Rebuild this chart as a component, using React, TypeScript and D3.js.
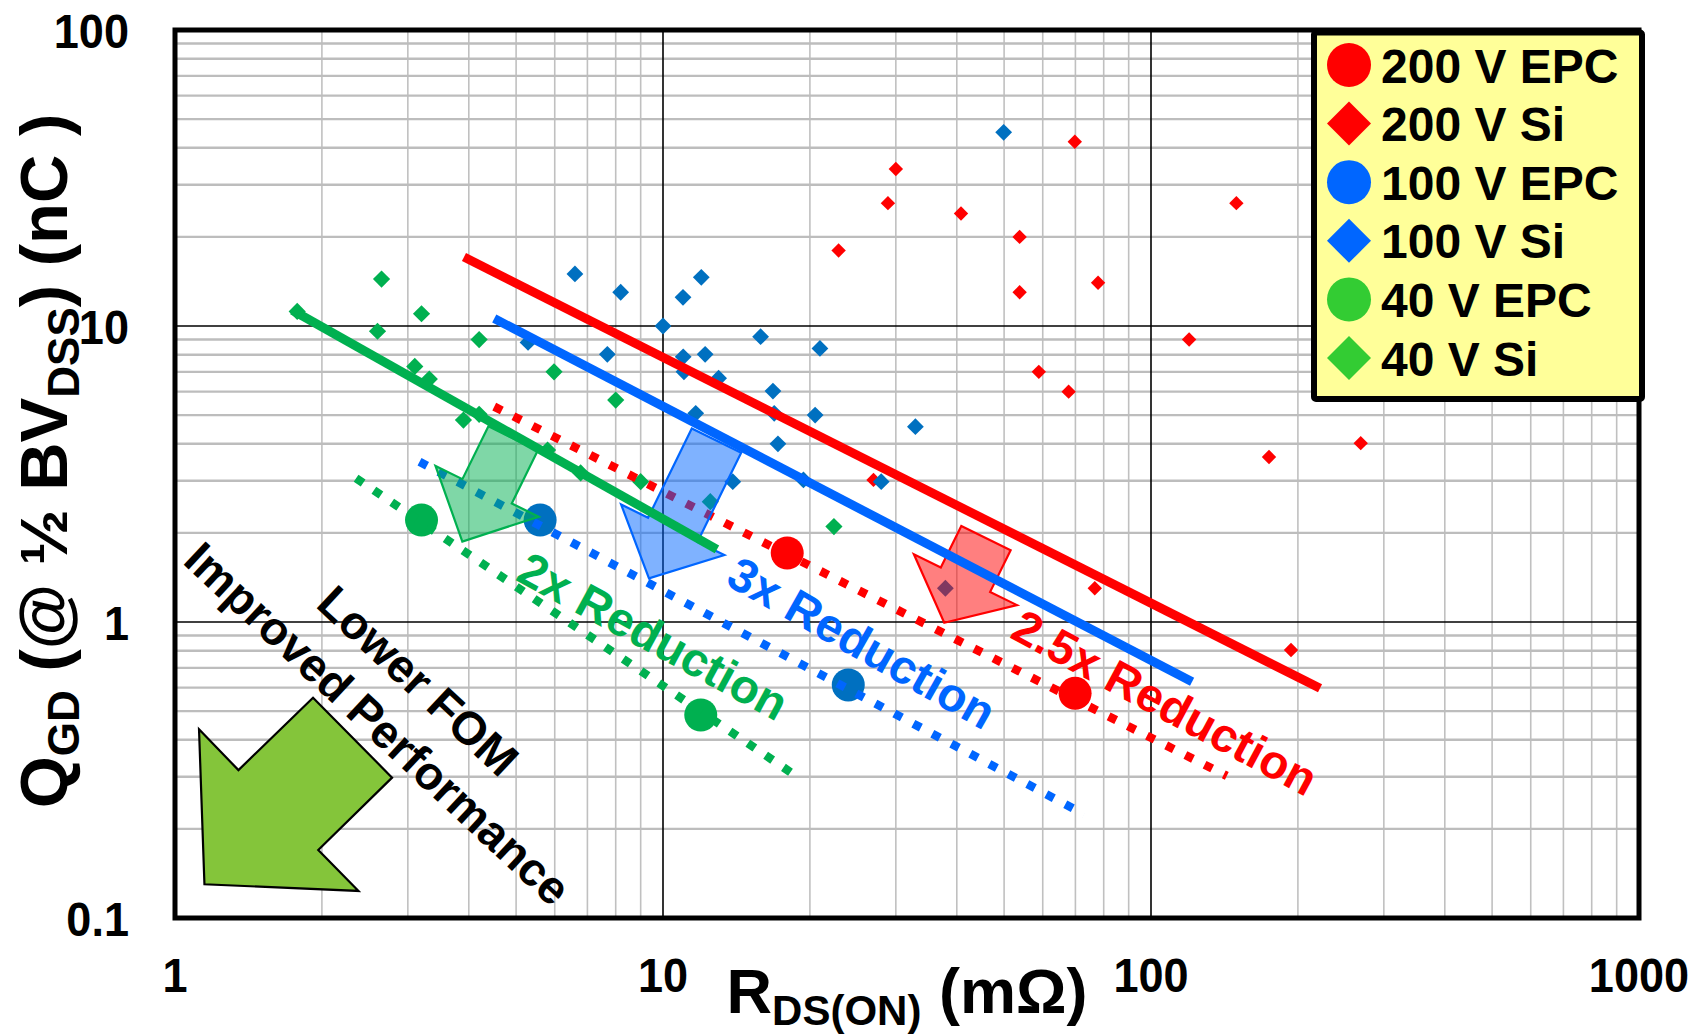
import React from 'react';
import * as d3 from 'd3';

const W = 1696;
const H = 1034;
const FONT = '"Liberation Sans", Arial, Helvetica, sans-serif';

// ---- data (R_DS(on) in mΩ, Q_GD in nC) ----
const si200: [number, number][] = [
  [30.0, 33.9], [28.9, 26.0], [22.9, 18.0], [40.8, 24.0], [69.8, 41.9], [53.8, 20.0],
  [53.8, 13.0], [77.9, 14.0], [149.6, 26.0], [119.7, 9.0], [58.9, 7.0], [67.8, 6.0],
  [174.5, 3.61], [269, 4.02], [193.6, 0.804], [76.7, 1.3], [27.0, 3.02],
];
const si100: [number, number][] = [
  [5.29, 8.8], [6.6, 15.0], [8.19, 13.0], [11.98, 14.6], [10.99, 12.5], [10.0, 10.0],
  [7.69, 8.02], [11.0, 7.87], [12.2, 8.02], [11.04, 7.0], [13.0, 6.66], [15.85, 9.2],
  [11.67, 5.07], [13.9, 2.98], [20.97, 8.4], [16.8, 6.03], [16.9, 5.07], [20.5, 5.0],
  [32.9, 4.57], [17.2, 4.0], [19.4, 3.02], [49.9, 45.1], [28.0, 2.98], [37.9, 1.3],
];
const si40: [number, number][] = [
  [1.78, 11.2], [2.65, 14.4], [3.2, 11.0], [2.6, 9.6], [4.2, 9.0], [3.1, 7.3],
  [3.32, 6.62], [5.98, 7.0], [3.9, 4.81], [4.2, 5.03], [8.0, 5.62], [5.8, 3.81],
  [6.78, 3.19], [9.0, 2.98], [12.5, 2.55], [22.4, 2.1],
];
const epc200: [number, number][] = [[17.97, 1.71], [69.9, 0.574]];
const epc100: [number, number][] = [[5.6, 2.21], [23.97, 0.613]];
const epc40: [number, number][] = [[3.2, 2.21], [11.95, 0.485]];

// trend lines: [start, end]
const siTrend200: [number, number][] = [[3.91, 17.1], [222, 0.597]];
const siTrend100: [number, number][] = [[4.51, 10.6], [121.4, 0.628]];
const siTrend40: [number, number][] = [[1.74, 11.3], [12.9, 1.76]];
const epcTrend200: [number, number][] = [[4.51, 5.34], [143, 0.302]];
const epcTrend100: [number, number][] = [[3.17, 3.48], [73, 0.224]];
const epcTrend40: [number, number][] = [[2.35, 3.06], [18.3, 0.31]];

// reduction arrows: tail, tip (data coords)
const arrowTails: [number, number][] = [[4.93, 4.17], [12.87, 4.1], [45.9, 1.92]];
const arrowTips: [number, number][] = [[3.88, 1.87], [9.36, 1.405], [37.7, 0.994]];
const arrowHeadLens = [56, 54, 48];

const reductionLabels = ['2x Reduction', '3x Reduction', '2.5x Reduction'];
const reductionAnchors: [number, number][] = [[9.2, 0.80], [24.6, 0.76], [103, 0.477]];
const reductionAngles = [28.5, 29.5, 28.3];

// big "improved performance" arrow outline (data coords)
const bigArrow: [number, number][] = [
  [1.12, 0.434], [1.349, 0.316], [1.918, 0.555], [2.785, 0.298],
  [1.966, 0.1697], [2.377, 0.1234], [1.149, 0.13],
];
const fomLabels = ['Lower FOM', 'Improved Performance'];
const fomAnchors: [number, number][] = [[2.99, 0.578], [2.47, 0.414]];

const xTickLabels = [1, 10, 100, 1000];
const yTickLabels = [0.1, 1, 10, 100];

const legendNames = ['200 V EPC', '200 V Si', '100 V EPC', '100 V Si', '40 V EPC', '40 V Si'];
const legendShapes = ['circle', 'diamond', 'circle', 'diamond', 'circle', 'diamond'];
const legendColors = ['#FF0000', '#FF0000', '#0066FF', '#0066FF', '#33CC33', '#33CC33'];

const RED = '#FF0000';
const BLUE_LINE = '#0066FF';
const BLUE_PT = '#0070C0';
const GREEN = '#00B050';

const X0 = 175, X1 = 1639, Y0 = 30, Y1 = 918;

const x = d3.scaleLog().domain([1, 1000]).range([X0, X1]);
const y = d3.scaleLog().domain([0.1, 100]).range([Y1, Y0]);

const line = d3.line<[number, number]>().x((d) => x(d[0])).y((d) => y(d[1]));

function diamond(cx: number, cy: number, s: number) {
  return `M${cx},${cy - s}L${cx + s},${cy}L${cx},${cy + s}L${cx - s},${cy}Z`;
}

function blockArrow(tail: [number, number], tip: [number, number], shaftW: number, headW: number, headLen: number) {
  const tx = x(tail[0]), ty = y(tail[1]);
  const px = x(tip[0]), py = y(tip[1]);
  const dx = px - tx, dy = py - ty;
  const len = Math.hypot(dx, dy);
  const ux = dx / len, uy = dy / len;
  const nx = -uy, ny = ux;
  const bx = px - ux * headLen, by = py - uy * headLen;
  const pts: [number, number][] = [
    [tx + nx * shaftW / 2, ty + ny * shaftW / 2],
    [bx + nx * shaftW / 2, by + ny * shaftW / 2],
    [bx + nx * headW / 2, by + ny * headW / 2],
    [px, py],
    [bx - nx * headW / 2, by - ny * headW / 2],
    [bx - nx * shaftW / 2, by - ny * shaftW / 2],
    [tx - nx * shaftW / 2, ty - ny * shaftW / 2],
  ];
  return 'M' + pts.map((p) => p.join(',')).join('L') + 'Z';
}

export default function App() {
  const xMinor = x.ticks().filter((v) => Math.abs(Math.log10(v) - Math.round(Math.log10(v))) > 1e-6);
  const xMajor = [10, 100];
  const yMinor = y.ticks().filter((v) => Math.abs(Math.log10(v) - Math.round(Math.log10(v))) > 1e-6);
  const yMajor = [1, 10];

  const arrowFills = [GREEN, BLUE_LINE, RED];
  const labelColors = [GREEN, BLUE_LINE, RED];
  const dots = { strokeWidth: 8.5, strokeDasharray: '8.5 13', fill: 'none' };

  return (
    <svg width={W} height={H} style={{ position: 'absolute', left: 0, top: 0, background: '#fff' }} fontFamily={FONT} fontWeight="bold">
      <rect x={0} y={0} width={W} height={H} fill="#fff" />
      {/* minor grid */}
      {xMinor.map((v, i) => (
        <line key={'xm' + i} x1={x(v)} x2={x(v)} y1={Y0} y2={Y1} stroke="#C0C0C0" strokeWidth={1.6} />
      ))}
      {yMinor.map((v, i) => (
        <line key={'ym' + i} x1={X0} x2={X1} y1={y(v)} y2={y(v)} stroke="#BDBDBD" strokeWidth={2.4} />
      ))}
      {/* major grid */}
      {xMajor.map((v, i) => (
        <line key={'xM' + i} x1={x(v)} x2={x(v)} y1={Y0} y2={Y1} stroke="#000" strokeWidth={1.6} />
      ))}
      {yMajor.map((v, i) => (
        <line key={'yM' + i} x1={X0} x2={X1} y1={y(v)} y2={y(v)} stroke="#000" strokeWidth={1.6} />
      ))}

      {/* Si diamonds */}
      {si200.map((d, i) => (
        <path key={'s2' + i} d={diamond(x(d[0]), y(d[1]), 7.2)} fill={RED} />
      ))}
      {si100.map((d, i) => (
        <path key={'s1' + i} d={diamond(x(d[0]), y(d[1]), 8.4)} fill={BLUE_PT} />
      ))}
      {si40.map((d, i) => (
        <path key={'s4' + i} d={diamond(x(d[0]), y(d[1]), 8.6)} fill={GREEN} />
      ))}

      {/* EPC circles */}
      {epc200.map((d, i) => (
        <circle key={'e2' + i} cx={x(d[0])} cy={y(d[1])} r={16.5} fill={RED} />
      ))}
      {epc100.map((d, i) => (
        <circle key={'e1' + i} cx={x(d[0])} cy={y(d[1])} r={16.5} fill={BLUE_PT} />
      ))}
      {epc40.map((d, i) => (
        <circle key={'e4' + i} cx={x(d[0])} cy={y(d[1])} r={16.5} fill={GREEN} />
      ))}

      {/* EPC dotted trend lines */}
      <path d={line(epcTrend200) || ''} stroke={RED} {...dots} />
      <path d={line(epcTrend100) || ''} stroke={BLUE_LINE} {...dots} />
      <path d={line(epcTrend40) || ''} stroke={GREEN} {...dots} />

      {/* reduction arrows */}
      {arrowTails.map((t, i) => (
        <path
          key={'ar' + i}
          d={blockArrow(t, arrowTips[i], 55, 115, arrowHeadLens[i])}
          fill={arrowFills[i]}
          fillOpacity={0.5}
          stroke={arrowFills[i]}
          strokeWidth={2.2}
          strokeLinejoin="miter"
        />
      ))}

      {/* Si solid trend lines */}
      <path d={line(siTrend200) || ''} stroke={RED} strokeWidth={9} fill="none" />
      <path d={line(siTrend100) || ''} stroke={BLUE_LINE} strokeWidth={9} fill="none" />
      <path d={line(siTrend40) || ''} stroke={GREEN} strokeWidth={9} fill="none" />

      {/* reduction labels */}
      {reductionLabels.map((t, i) => (
        <text
          key={'rl' + i}
          transform={`translate(${x(reductionAnchors[i][0])},${y(reductionAnchors[i][1])}) rotate(${reductionAngles[i]})`}
          textAnchor="middle"
          fontSize={47.5}
          fill={labelColors[i]}
        >
          {t}
        </text>
      ))}

      {/* big arrow */}
      <path
        d={'M' + bigArrow.map((d) => `${x(d[0])},${y(d[1])}`).join('L') + 'Z'}
        fill="#84C53A"
        stroke="#000"
        strokeWidth={2.2}
      />
      {fomLabels.map((t, i) => (
        <text
          key={'fl' + i}
          transform={`translate(${x(fomAnchors[i][0])},${y(fomAnchors[i][1])}) rotate(43)`}
          textAnchor="middle"
          fontSize={46.5}
          fill="#000"
        >
          {t}
        </text>
      ))}

      {/* frame */}
      <rect x={X0} y={Y0} width={X1 - X0} height={Y1 - Y0} fill="none" stroke="#000" strokeWidth={5} />

      {/* tick labels */}
      {xTickLabels.map((v, i) => (
        <text key={'xt' + i} transform={`translate(${x(v)},992) scale(0.92,1)`} textAnchor="middle" fontSize={49} fill="#000">
          {v}
        </text>
      ))}
      {yTickLabels.map((v, i) => (
        <text key={'yt' + i} transform={`translate(129,${y(v) + 17.5}) scale(0.92,1)`} textAnchor="end" fontSize={49} fill="#000">
          {v}
        </text>
      ))}

      {/* axis titles */}
      <text x={(X0 + X1) / 2} y={1013} textAnchor="middle" fontSize={63} fill="#000">
        R<tspan fontSize={42} dy={12}>DS(ON)</tspan>
        <tspan dy={-12}> (mΩ)</tspan>
      </text>
      <text transform="translate(67,461) rotate(-90)" textAnchor="middle" fontSize={67} fill="#000">
        Q<tspan fontSize={44} dy={12}>GD</tspan>
        <tspan dy={-12}> (@ ½ BV</tspan>
        <tspan fontSize={44} dy={12}>DSS</tspan>
        <tspan dy={-12}>) (nC )</tspan>
      </text>

      {/* legend */}
      <rect x={1314} y={32.5} width={328} height={366.5} fill="#FFFF99" stroke="#000" strokeWidth={6} rx={2} />
      {legendNames.map((n, i) => {
        const cy = 65 + i * 58.6;
        const cx = 1349;
        return (
          <g key={'lg' + i}>
            {legendShapes[i] === 'circle' ? (
              <circle cx={cx} cy={cy} r={22} fill={legendColors[i]} />
            ) : (
              <path d={diamond(cx, cy, 22)} fill={legendColors[i]} />
            )}
            <text x={1381} y={cy + 17.5} fontSize={48} fill="#000">
              {n}
            </text>
          </g>
        );
      })}
    </svg>
  );
}
